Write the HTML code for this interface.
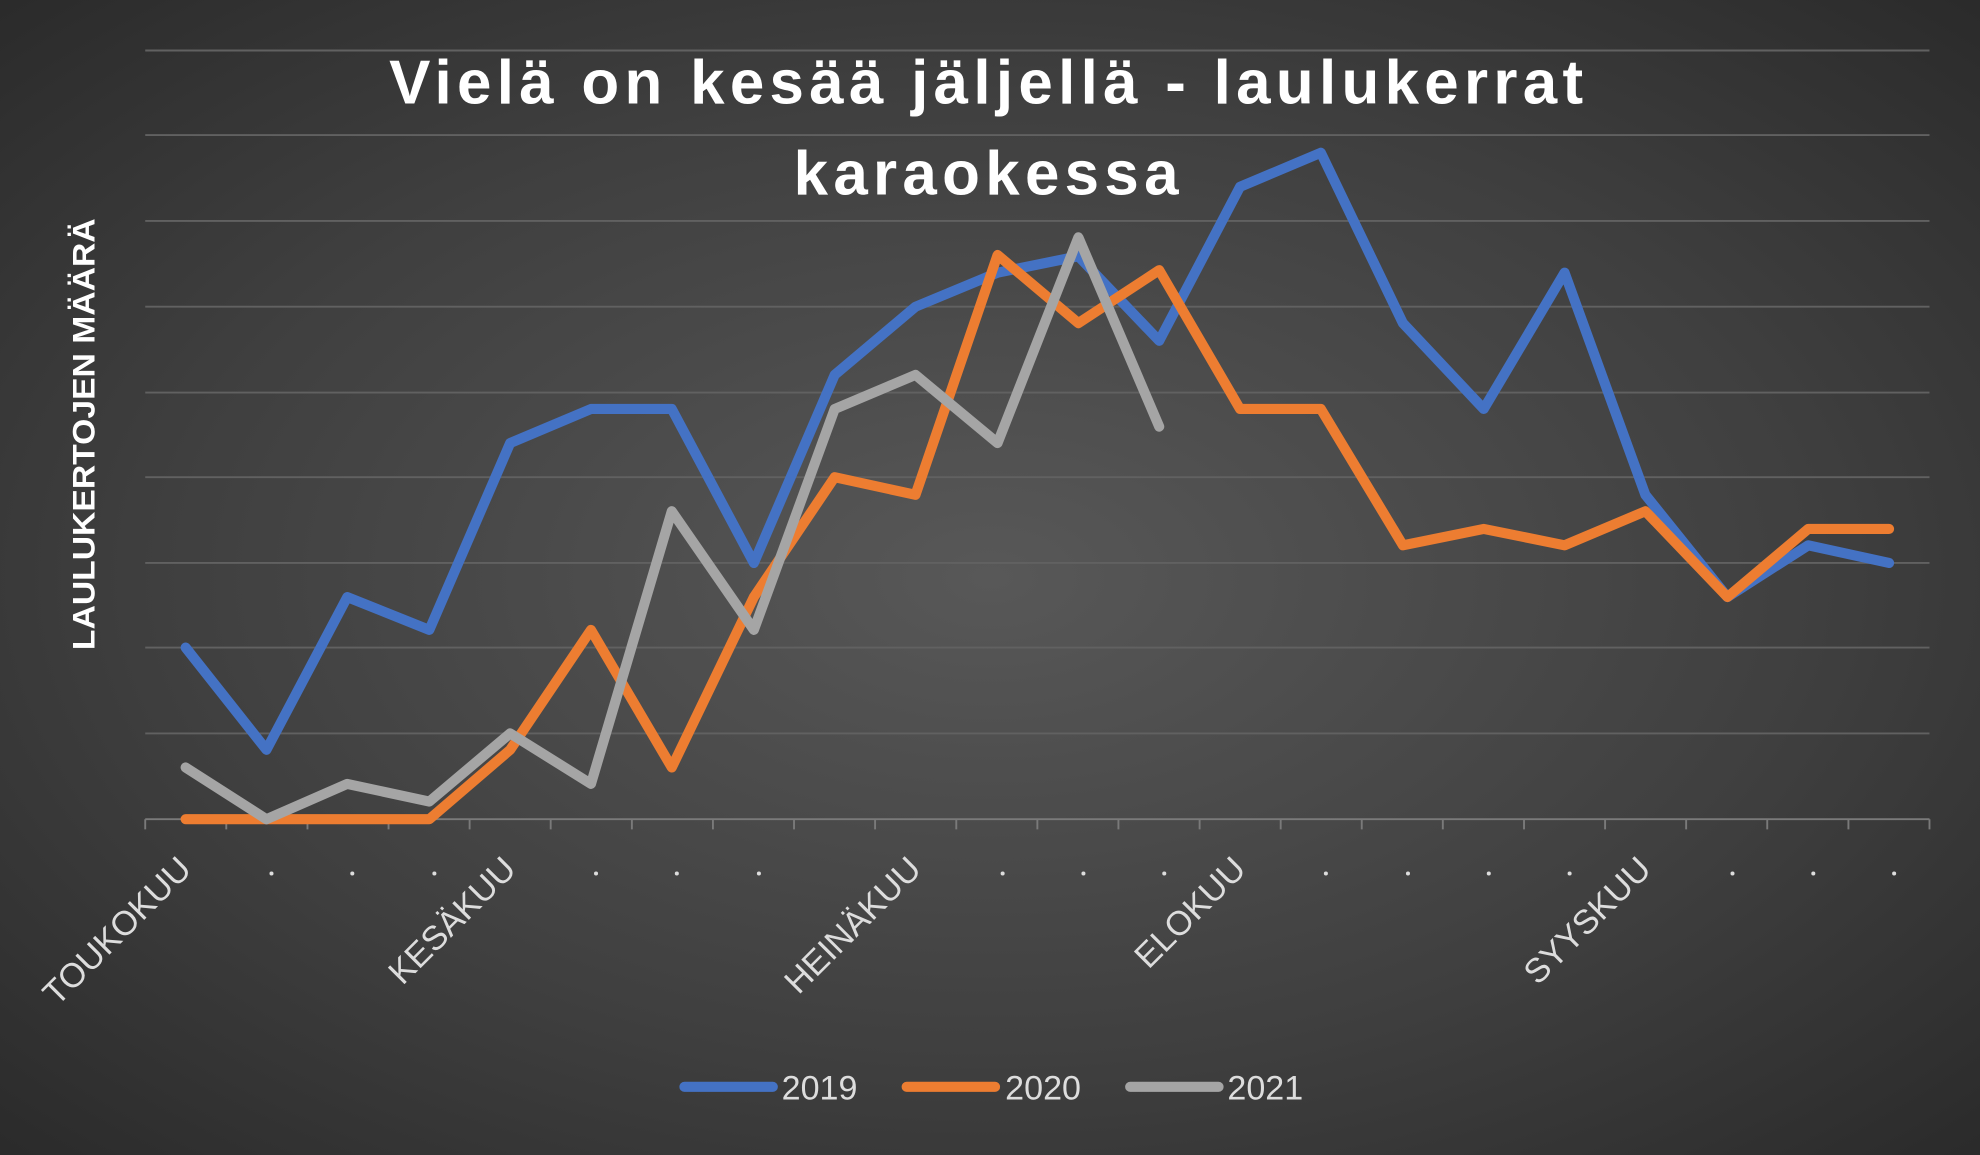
<!DOCTYPE html>
<html><head><meta charset="utf-8"><style>
html,body{margin:0;padding:0;background:#333;}
svg{display:block}
text{font-family:"Liberation Sans",sans-serif;}
</style></head><body>
<svg width="1980" height="1155" viewBox="0 0 1568 915" preserveAspectRatio="none" xmlns="http://www.w3.org/2000/svg">
<defs>
<radialGradient id="bg" cx="50%" cy="50%" r="70%">
<stop offset="0" stop-color="#585858"/>
<stop offset="0.6" stop-color="#3f3f3f"/>
<stop offset="1" stop-color="#2b2b2b"/>
</radialGradient>
</defs>
<rect width="1568" height="915" fill="url(#bg)"/>
<g stroke="#616161" stroke-width="1.5">
<line x1="115" y1="40" x2="1528" y2="40"/>
<line x1="115" y1="107" x2="1528" y2="107"/>
<line x1="115" y1="175" x2="1528" y2="175"/>
<line x1="115" y1="243" x2="1528" y2="243"/>
<line x1="115" y1="311" x2="1528" y2="311"/>
<line x1="115" y1="378" x2="1528" y2="378"/>
<line x1="115" y1="446" x2="1528" y2="446"/>
<line x1="115" y1="513" x2="1528" y2="513"/>
<line x1="115" y1="581" x2="1528" y2="581"/>
</g>
<g stroke="#7a7a7a" stroke-width="1.5">
<line x1="115" y1="649" x2="1528" y2="649"/>
<path d="M115 649v8M179.2 649v8M243.5 649v8M307.7 649v8M371.9 649v8M436.1 649v8M500.4 649v8M564.6 649v8M628.8 649v8M693 649v8M757.3 649v8M821.5 649v8M885.7 649v8M950 649v8M1014.2 649v8M1078.4 649v8M1142.6 649v8M1206.9 649v8M1271.1 649v8M1335.3 649v8M1399.5 649v8M1463.8 649v8M1528 649v8"/>
</g>
<text x="783" y="82" text-anchor="middle" fill="#fff" font-size="49" font-weight="bold" letter-spacing="4.2">Vielä on kesää jäljellä - laulukerrat</text>
<text x="783" y="154" text-anchor="middle" fill="#fff" font-size="49" font-weight="bold" letter-spacing="4.2">karaokessa</text>
<text transform="translate(75,344) rotate(-90)" text-anchor="middle" fill="#fff" font-size="25" font-weight="bold" textLength="342" lengthAdjust="spacingAndGlyphs">LAULUKERTOJEN MÄÄRÄ</text>
<g fill="none" stroke-width="8" stroke-linejoin="round" stroke-linecap="round">
<polyline stroke="#4472c4" points="147,513 211,594 275,473 340,499 404,351 468,324 532,324 597,446 661,297 725,243 790,216 854,203 918,270 982,148 1046,121 1111,256 1175,324 1239,216 1303,392 1368,473 1432,432 1496,446"/>
<polyline stroke="#ed7d31" points="147,649 211,649 275,649 340,649 404,594 468,499 532,608 597,473 661,378 725,392 790,202 854,256 918,214 982,324 1046,324 1111,432 1175,419 1239,432 1303,405 1368,473 1432,419 1496,419"/>
<polyline stroke="#a5a5a5" points="147,608 211,649 275,621 340,635 404,581 468,621 532,405 597,499 661,324 725,297 790,351 854,188 918,338"/>
</g>
<g fill="#ddd" font-size="27">
<text transform="translate(153,690) rotate(-45)" text-anchor="end">TOUKOKUU</text>
<text transform="translate(410,690) rotate(-45)" text-anchor="end">KESÄKUU</text>
<text transform="translate(731,690) rotate(-45)" text-anchor="end">HEINÄKUU</text>
<text transform="translate(988,690) rotate(-45)" text-anchor="end">ELOKUU</text>
<text transform="translate(1309,690) rotate(-45)" text-anchor="end">SYYSKUU</text>
</g>
<g fill="#ddd">
<circle cx="215" cy="692" r="1.6"/><circle cx="279" cy="692" r="1.6"/><circle cx="344" cy="692" r="1.6"/>
<circle cx="472" cy="692" r="1.6"/><circle cx="536" cy="692" r="1.6"/><circle cx="601" cy="692" r="1.6"/>
<circle cx="794" cy="692" r="1.6"/><circle cx="858" cy="692" r="1.6"/><circle cx="922" cy="692" r="1.6"/>
<circle cx="1050" cy="692" r="1.6"/><circle cx="1115" cy="692" r="1.6"/><circle cx="1179" cy="692" r="1.6"/><circle cx="1243" cy="692" r="1.6"/>
<circle cx="1372" cy="692" r="1.6"/><circle cx="1436" cy="692" r="1.6"/><circle cx="1500" cy="692" r="1.6"/>
</g>
<g stroke-width="8" stroke-linecap="round">
<line x1="542" y1="861" x2="612" y2="861" stroke="#4472c4"/>
<line x1="718" y1="861" x2="788" y2="861" stroke="#ed7d31"/>
<line x1="895" y1="861" x2="965" y2="861" stroke="#a5a5a5"/>
</g>
<g fill="#ddd" font-size="27">
<text x="619" y="871">2019</text>
<text x="796" y="871">2020</text>
<text x="972" y="871">2021</text>
</g>
</svg>
</body></html>
